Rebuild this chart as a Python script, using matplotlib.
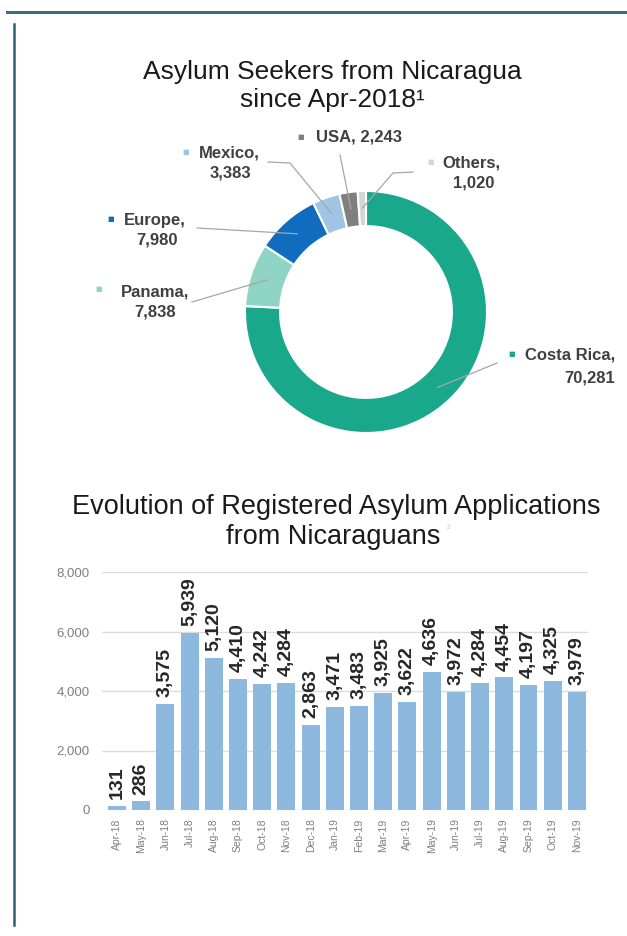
import matplotlib
matplotlib.use("Agg")
import matplotlib.pyplot as plt
from matplotlib.lines import Line2D
import numpy as np

plt.rcParams["font.family"] = ["Liberation Sans", "DejaVu Sans"]

W, H = 627, 936

# donut data
regions = ["Costa Rica", "Panama", "Europe", "Mexico", "USA", "Others"]
seekers = [70281, 7838, 7980, 3383, 2243, 1020]
region_colors = ["#1aa88c", "#8fd4c4", "#0f6cbf", "#9fc4e4", "#7f7f7f", "#d6d6d6"]

# bar data
months = ["Apr-18", "May-18", "Jun-18", "Jul-18", "Aug-18", "Sep-18", "Oct-18",
          "Nov-18", "Dec-18", "Jan-19", "Feb-19", "Mar-19", "Apr-19", "May-19",
          "Jun-19", "Jul-19", "Aug-19", "Sep-19", "Oct-19", "Nov-19"]
applications = [131, 286, 3575, 5939, 5120, 4410, 4242, 4284, 2863, 3471,
                3483, 3925, 3622, 4636, 3972, 4284, 4454, 4197, 4325, 3979]
yticks = [0, 2000, 4000, 6000, 8000]

# label layout in image pixels: bullet, name (left x, y), value (center x, y), leader path
label_layout = {
    "Costa Rica": dict(bullet=(512, 354), name=(525, 355), value=(590, 378), path=[(497, 363)]),
    "Panama": dict(bullet=(99, 289), name=(121, 292), value=(155, 312), path=[(192, 302)]),
    "Europe": dict(bullet=(111, 219), name=(124, 220), value=(157, 240), path=[(197, 228)]),
    "Mexico": dict(bullet=(186, 152), name=(199, 153), value=(230, 173), path=[(290, 163), (268, 162)]),
    "USA": dict(bullet=(301, 137), name=(316, 137), value=None, path=[(340, 155)]),
    "Others": dict(bullet=(431, 162), name=(442, 163), value=(474, 183), path=[(393, 173), (413, 172)]),
}

DONUT_C = (366, 312)
DONUT_R = 121


def fx(px):
    return px / W


def fy(py):
    return 1 - py / H


fig = plt.figure(figsize=(W / 100, H / 100), dpi=100)

# frame lines
fig.add_artist(Line2D([fx(7), fx(627)], [fy(12), fy(12)], color="#3b6f80", lw=2.2,
                      transform=fig.transFigure))
fig.add_artist(Line2D([fx(14), fx(14)], [fy(24), fy(925)], color="#2f5f72", lw=1.8,
                      transform=fig.transFigure))

# titles
fig.text(fx(332), fy(72), "Asylum Seekers from Nicaragua", ha="center", va="center",
         fontsize=19, color="#1a1a1a")
fig.text(fx(332), fy(100), "since Apr-2018\u00b9", ha="center", va="center",
         fontsize=19, color="#1a1a1a")
fig.text(fx(336), fy(507), "Evolution of Registered Asylum Applications", ha="center",
         va="center", fontsize=19.5, color="#1a1a1a")
fig.text(fx(333), fy(537), "from Nicaraguans", ha="center", va="center",
         fontsize=19.5, color="#1a1a1a")
fig.text(fx(447), fy(529), "\u00b2", ha="left", va="center", fontsize=8, color="#cccccc")

# donut
ax = fig.add_axes([fx(DONUT_C[0] - DONUT_R), fy(DONUT_C[1] + DONUT_R),
                   2 * DONUT_R / W, 2 * DONUT_R / H])
ax.pie(seekers, colors=region_colors, startangle=90, counterclock=False, radius=1.0,
       wedgeprops=dict(width=0.29, edgecolor="white", linewidth=1.5))
ax.set_xlim(-1, 1)
ax.set_ylim(-1, 1)
ax.set_aspect("auto")
ax.axis("off")

total = sum(seekers)
start = 90.0
for name, val, col in zip(regions, seekers, region_colors):
    sweep = 360.0 * val / total
    mid = np.radians(start - sweep / 2)
    start -= sweep
    lay = label_layout[name]
    r = 0.86 * DONUT_R
    p0 = (DONUT_C[0] + r * np.cos(mid), DONUT_C[1] - r * np.sin(mid))
    pts = [p0] + lay["path"]
    fig.add_artist(Line2D([fx(p[0]) for p in pts], [fy(p[1]) for p in pts],
                          color="#a6a6a6", lw=0.9, transform=fig.transFigure))
    bx, by = lay["bullet"]
    fig.text(fx(bx), fy(by), "\u25a0", ha="center", va="center", fontsize=5, color=col,
             family=["DejaVu Sans"])
    nx, ny = lay["name"]
    if lay["value"] is None:
        fig.text(fx(nx), fy(ny), f"{name}, {val:,}", ha="left", va="center",
                 fontsize=12, fontweight="bold", color="#404040")
    else:
        fig.text(fx(nx), fy(ny), f"{name},", ha="left", va="center",
                 fontsize=12, fontweight="bold", color="#404040")
        vx, vy = lay["value"]
        fig.text(fx(vx), fy(vy), f"{val:,}", ha="center", va="center",
                 fontsize=12, fontweight="bold", color="#404040")

# bar chart
ax2 = fig.add_axes([fx(102), fy(810), (588 - 102) / W, (810 - 572) / H])
x = np.arange(len(months))
ax2.bar(x, applications, width=0.74, color="#8db9de", zorder=2)
ax2.set_xlim(-0.62, len(months) - 0.54)
ax2.set_ylim(0, 8000)
ax2.set_yticks(yticks)
ax2.set_yticklabels([f"{v:,}" for v in yticks])
ax2.set_xticks(x)
ax2.set_xticklabels(months, rotation=90)
ax2.grid(axis="y", color="#dcdcdc", lw=1, zorder=0)
ax2.set_axisbelow(True)
for s in ax2.spines.values():
    s.set_visible(False)
ax2.tick_params(axis="y", length=0, pad=9, labelsize=9.5, labelcolor="#7f7f7f")
ax2.tick_params(axis="x", length=0, pad=6, labelsize=7.5, labelcolor="#7f7f7f")
for xi, v in zip(x, applications):
    ax2.annotate(f"{v:,}", (xi, v), xytext=(0, 5), textcoords="offset points",
                 rotation=90, ha="center", va="bottom", fontsize=14,
                 fontweight="bold", color="#262626", annotation_clip=False)

fig.savefig("out.png", dpi=100, facecolor="white")
